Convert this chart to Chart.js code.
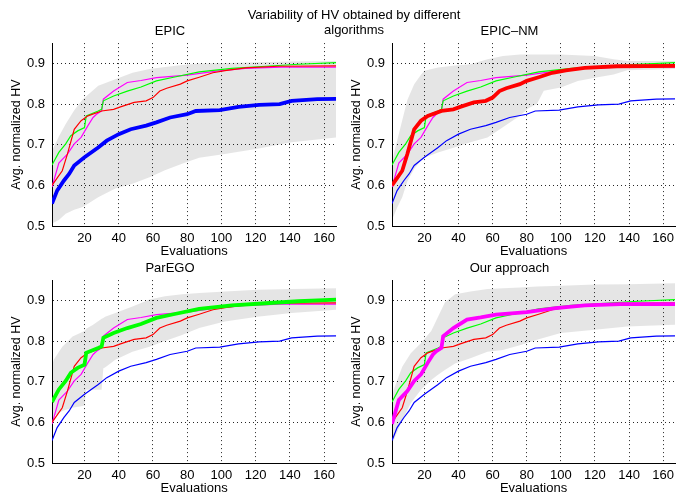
<!DOCTYPE html>
<html>
<head>
<meta charset="utf-8">
<script src="https://cdn.jsdelivr.net/npm/chart.js@4.4.1/dist/chart.umd.min.js"></script>
<style>
  body { margin: 0; background: #fff; overflow: hidden; }
  #wrap { position: relative; width: 679px; height: 500px; }
  canvas { position: absolute; }
  #mainTitle {
    position: absolute; left: 154px; top: 7px; width: 400px;
    text-align: center; font: 13px "Liberation Sans", Arial, sans-serif;
    line-height: 15px; color: #000; z-index: 2;
  }
</style>
</head>
<body>
<div id="wrap">
  <div id="mainTitle">Variability of HV obtained by different<br>algorithms</div>
  <canvas id="c1" width="340" height="241" style="left:0;top:22px"></canvas>
  <canvas id="c2" width="339" height="241" style="left:340px;top:22px"></canvas>
  <canvas id="c3" width="340" height="241" style="left:0;top:259px"></canvas>
  <canvas id="c4" width="339" height="241" style="left:340px;top:259px"></canvas>
</div>
<script>
// mean curves (same in all four panels)
const epicX = [1, 4, 8, 11, 14, 20, 28, 33, 40, 47, 56, 62, 70, 80, 85, 99, 110, 122, 134, 141, 156, 167];
const epicY = [0.555, 0.587, 0.612, 0.628, 0.649, 0.669, 0.693, 0.710, 0.726, 0.738, 0.747, 0.755, 0.767, 0.775, 0.783, 0.785, 0.793, 0.798, 0.800, 0.808, 0.812, 0.813];

const nmX = [1, 7, 10, 14, 18, 22, 30, 37, 41, 49, 56, 60, 64, 68, 76, 80, 87, 95, 103, 114, 133, 167];
const nmY = [0.600, 0.636, 0.677, 0.738, 0.759, 0.771, 0.783, 0.787, 0.793, 0.804, 0.808, 0.816, 0.832, 0.839, 0.849, 0.857, 0.866, 0.877, 0.883, 0.889, 0.893, 0.894];

const paregoX = [1, 5, 9, 12, 16, 20, 21, 28, 30, 31, 37, 45, 53, 62, 72, 87, 106, 126, 145, 167];
const paregoY = [0.650, 0.681, 0.702, 0.722, 0.734, 0.742, 0.771, 0.783, 0.787, 0.808, 0.820, 0.832, 0.842, 0.857, 0.866, 0.879, 0.888, 0.893, 0.898, 0.902];

const oursX = [1, 5, 10, 14, 18, 22, 25, 27, 30, 31, 37, 45, 53, 62, 80, 97, 114, 135, 167];
const oursY = [0.596, 0.655, 0.677, 0.702, 0.718, 0.747, 0.767, 0.775, 0.783, 0.812, 0.832, 0.853, 0.858, 0.865, 0.871, 0.881, 0.888, 0.891, 0.891];

// variability bands
const epicBandX  = [1, 5, 9, 14, 19, 28, 38, 48, 58, 67, 77, 87, 102, 121, 141, 167];
const epicBandHi = [0.685, 0.720, 0.751, 0.785, 0.812, 0.845, 0.861, 0.877, 0.886, 0.891, 0.896, 0.900, 0.901, 0.903, 0.905, 0.906];
const epicBandLo = [0.506, 0.515, 0.530, 0.540, 0.547, 0.571, 0.592, 0.604, 0.620, 0.637, 0.653, 0.668, 0.677, 0.690, 0.706, 0.718];

const nmBandX  = [1, 4, 7, 10, 14, 18, 20, 28, 38, 47, 57, 66, 76, 81, 86, 90, 100, 110, 120, 131, 139, 167];
const nmBandHi = [0.660, 0.710, 0.760, 0.810, 0.849, 0.872, 0.882, 0.890, 0.895, 0.898, 0.910, 0.918, 0.922, 0.922, 0.922, 0.922, 0.922, 0.920, 0.918, 0.910, 0.906, 0.906];
const nmBandLo = [0.515, 0.545, 0.571, 0.610, 0.640, 0.661, 0.668, 0.681, 0.694, 0.706, 0.718, 0.743, 0.771, 0.790, 0.800, 0.833, 0.841, 0.857, 0.865, 0.873, 0.883, 0.886];

const paregoBandX  = [1, 2, 7, 13, 19, 20, 21, 25, 30, 31, 32, 38, 48, 58, 67, 77, 87, 102, 121, 141, 167];
const paregoBandHi = [0.740, 0.754, 0.786, 0.811, 0.823, 0.825, 0.830, 0.840, 0.855, 0.857, 0.860, 0.869, 0.885, 0.902, 0.910, 0.915, 0.918, 0.922, 0.926, 0.928, 0.930];
const paregoBandLo = [0.600, 0.615, 0.628, 0.636, 0.640, 0.642, 0.680, 0.680, 0.680, 0.733, 0.735, 0.754, 0.774, 0.786, 0.800, 0.815, 0.832, 0.848, 0.860, 0.869, 0.877];

const oursBandX  = [1, 2, 7, 12, 18, 24, 28, 32, 38, 47, 57, 66, 76, 86, 100, 120, 139, 167];
const oursBandHi = [0.660, 0.680, 0.737, 0.770, 0.795, 0.825, 0.860, 0.895, 0.915, 0.922, 0.928, 0.930, 0.932, 0.934, 0.936, 0.939, 0.940, 0.942];
const oursBandLo = [0.550, 0.556, 0.605, 0.647, 0.680, 0.704, 0.717, 0.729, 0.745, 0.758, 0.774, 0.778, 0.790, 0.803, 0.820, 0.828, 0.836, 0.840];

const xTicks = [20, 40, 60, 80, 100, 120, 140, 160];
const yTicks = [0.5, 0.6, 0.7, 0.8, 0.9];
const panelTitles = ['EPIC', 'EPIC\u2013NM', 'ParEGO', 'Our approach'];

const FONT = '"Liberation Sans", Arial, Helvetica, sans-serif';
Chart.defaults.font.family = FONT;
Chart.defaults.color = '#000';

function pts(xs, ys) {
  return xs.map((x, i) => ({ x: x, y: ys[i] }));
}

const means = [
  { x: epicX, y: epicY, color: '#0000ff' },
  { x: nmX, y: nmY, color: '#ff0000' },
  { x: paregoX, y: paregoY, color: '#00ff00' },
  { x: oursX, y: oursY, color: '#ff00ff' }
];
const bands = [
  [epicBandX, epicBandHi, epicBandLo],
  [nmBandX, nmBandHi, nmBandLo],
  [paregoBandX, paregoBandHi, paregoBandLo],
  [oursBandX, oursBandHi, oursBandLo]
];

function makePanel(id, k) {
  const b = bands[k];
  const datasets = [
    { data: pts(b[0], b[1]), borderWidth: 0, pointRadius: 0, fill: '+1',
      backgroundColor: 'rgba(0,0,0,0.1)', order: 5 },
    { data: pts(b[0], b[2]), borderWidth: 0, pointRadius: 0, fill: false, order: 5 }
  ];
  means.forEach((m, i) => {
    datasets.push({
      data: pts(m.x, m.y),
      borderColor: m.color,
      borderWidth: i === k ? 3.8 : 1.2,
      pointRadius: 0,
      fill: false,
      tension: 0,
      order: i === k ? 0 : 1
    });
  });

  new Chart(document.getElementById(id), {
    type: 'line',
    data: { datasets: datasets },
    options: {
      responsive: false,
      animation: false,
      layout: { padding: 0 },
      plugins: {
        legend: { display: false },
        tooltip: { enabled: false },
        title: {
          display: true, text: panelTitles[k], color: '#000',
          font: { size: 13, weight: 'normal' },
          padding: { top: 2, bottom: 3.5 }
        }
      },
      scales: {
        x: {
          type: 'linear', min: 1, max: 167,
          afterBuildTicks: s => { s.ticks = xTicks.map(v => ({ value: v })); },
          afterFit: s => { s.height = 37; },
          grid: { color: 'rgba(0,0,0,0.85)', lineWidth: 1, drawTicks: false },
          border: { display: true, color: '#000', width: 1, dash: [1, 3] },
          ticks: { padding: 5, font: { size: 13 }, color: '#000', maxRotation: 0 },
          title: { display: true, text: 'Evaluations', color: '#000',
                   font: { size: 13 }, padding: { top: 0, bottom: 4 } }
        },
        y: {
          min: 0.5, max: 0.95,
          afterBuildTicks: s => { s.ticks = yTicks.map(v => ({ value: v })); },
          afterFit: s => { s.width = 52; },
          grid: { color: 'rgba(0,0,0,0.85)', lineWidth: 1, drawTicks: false },
          border: { display: true, color: '#000', width: 1, dash: [1, 3] },
          ticks: { padding: 7, font: { size: 13 }, color: '#000',
                   callback: v => v.toFixed(1) },
          title: { display: true, text: 'Avg. normalized HV', color: '#000',
                   font: { size: 12.5 }, padding: { top: 9.5, bottom: 0 } }
        }
      }
    }
  });
}

['c1', 'c2', 'c3', 'c4'].forEach((id, k) => makePanel(id, k));
</script>
</body>
</html>
